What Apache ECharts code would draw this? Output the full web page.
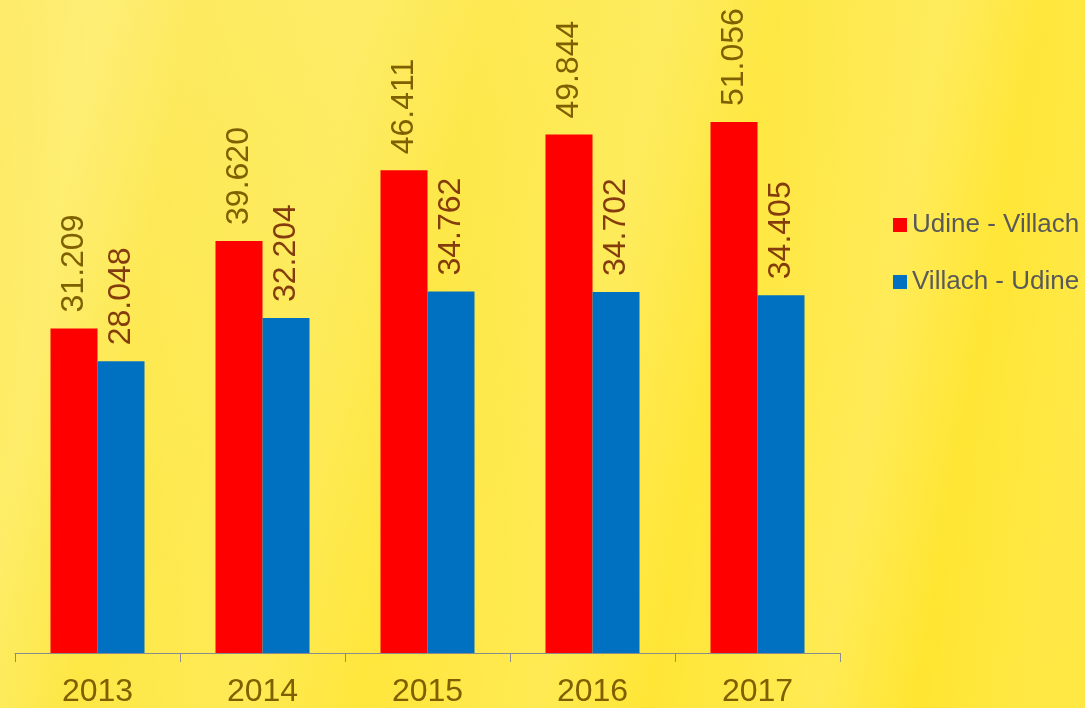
<!DOCTYPE html>
<html>
<head>
<meta charset="utf-8">
<script src="https://cdn.jsdelivr.net/npm/echarts@6/dist/echarts.min.js"></script>
<style>
  html, body { margin: 0; padding: 0; }
  body {
    width: 1085px; height: 708px; overflow: hidden;
    background:
      linear-gradient(100deg, rgba(255,245,150,0.0) 0%, rgba(255,245,150,0.35) 8%, rgba(255,245,150,0) 16%,
        rgba(255,245,150,0.25) 30%, rgba(255,245,150,0) 40%, rgba(255,245,150,0.3) 55%, rgba(255,245,150,0) 64%,
        rgba(255,245,150,0.35) 78%, rgba(255,245,150,0) 86%, rgba(255,245,150,0.2) 95%),
      linear-gradient(135deg, #fdeb6a 0%, #fde84a 35%, #ffe638 65%, #ffe52e 100%);
  }
  #chart { width: 1085px; height: 708px; }
</style>
</head>
<body>
<div id="chart"></div>
<script>
const years = ['2013', '2014', '2015', '2016', '2017'];
const udineVillach = [31209, 39620, 46411, 49844, 51056];
const villachUdine = [28048, 32204, 34762, 34702, 34405];

function fmt(v) {
  return String(v).replace(/\B(?=(\d{3})+(?!\d))/g, '.');
}

const chart = echarts.init(document.getElementById('chart'), null, { renderer: 'canvas' });

const labelBase = {
  show: true,
  position: 'top',
  rotate: 90,
  align: 'left',
  verticalAlign: 'middle',
  distance: 16,
  fontSize: 32,
  fontFamily: 'Liberation Sans, Arial, sans-serif',
  formatter: (p) => fmt(p.value)
};

chart.setOption({
  backgroundColor: 'transparent',
  animation: false,
  grid: { left: 15, right: 245, top: 29, bottom: 54, containLabel: false },
  legend: {
    orient: 'vertical',
    left: 888,
    top: 207,
    itemWidth: 14,
    itemHeight: 14,
    itemGap: 31,
    icon: 'rect',
    textStyle: { color: '#595959', fontSize: 26, fontFamily: 'Liberation Sans, Arial, sans-serif' },
    data: ['Udine - Villach', 'Villach - Udine']
  },
  xAxis: {
    type: 'category',
    data: years,
    boundaryGap: true,
    axisLine: { lineStyle: { color: '#8c8c8c', width: 1 } },
    axisTick: { show: true, length: 9, lineStyle: { color: '#8c8c8c' } },
    axisLabel: { color: '#7f6000', fontSize: 32, margin: 23, fontFamily: 'Liberation Sans, Arial, sans-serif' }
  },
  yAxis: {
    type: 'value',
    min: 0,
    max: 60000,
    show: false,
    splitLine: { show: false }
  },
  series: [
    {
      name: 'Udine - Villach',
      type: 'bar',
      data: udineVillach,
      barWidth: 47,
      barGap: '0%',
      itemStyle: { color: '#ff0000' },
      label: Object.assign({}, labelBase, { color: '#7f6000' })
    },
    {
      name: 'Villach - Udine',
      type: 'bar',
      data: villachUdine,
      barWidth: 47,
      itemStyle: { color: '#0070c0' },
      label: Object.assign({}, labelBase, { color: '#843c0c' })
    }
  ]
});
</script>
</body>
</html>
